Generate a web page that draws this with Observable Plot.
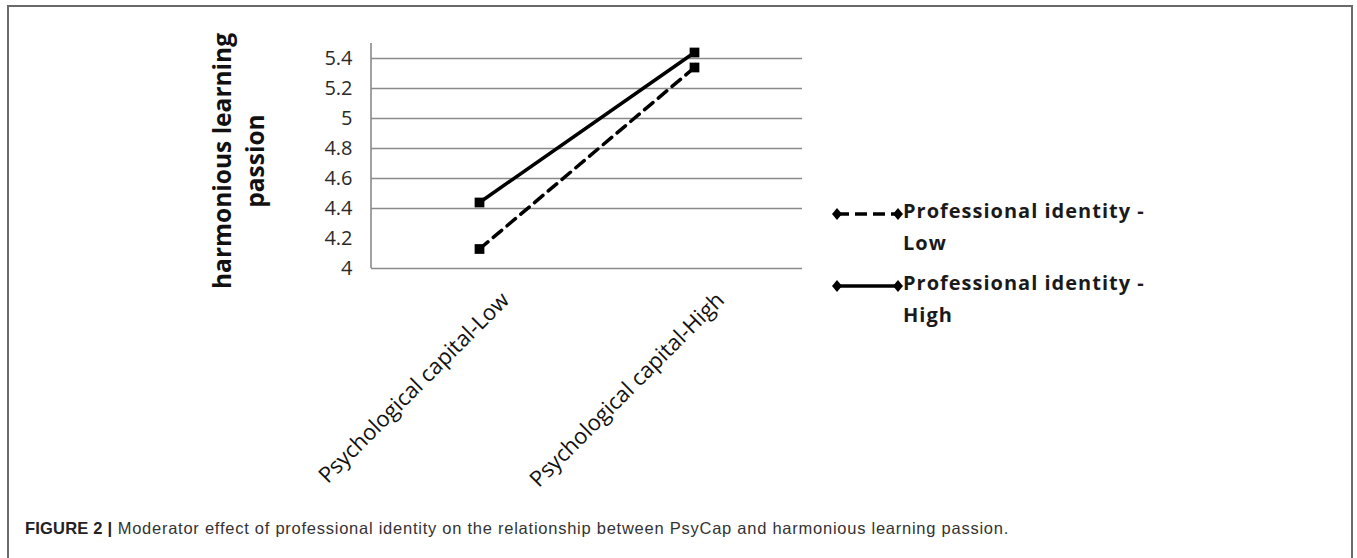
<!DOCTYPE html>
<html>
<head>
<meta charset="utf-8">
<script src="https://cdn.jsdelivr.net/npm/d3@7"></script>
<script src="https://cdn.jsdelivr.net/npm/@observablehq/plot@0.6"></script>
<style>
  html, body { margin: 0; padding: 0; background: #fff; }
  #fig { position: relative; width: 1357px; height: 558px; overflow: hidden; }
  #frame { position: absolute; left: 7px; top: 5px; width: 1346px; height: 600px;
           border: 2px solid #6a6a6a; box-sizing: border-box; }
  #chart { position: absolute; left: 0; top: 0; }
  #legend { position: absolute; left: 830px; top: 196px; font-family: "Open Sans", sans-serif;
            font-weight: 700; font-size: 20px; color: #1a1a1a; }
  .item { position: relative; height: 72px; }
  .item svg { position: absolute; left: 0; top: 8px; }
  .item .lab { position: absolute; left: 73px; top: -1px; line-height: 32px; letter-spacing: 1px; white-space: nowrap; }
  #caption { position: absolute; left: 25px; top: 519px; font-family: "Liberation Sans", Arial, sans-serif;
             font-size: 16.5px; letter-spacing: 0.75px; color: #333; white-space: nowrap; }
  #caption b { color: #222; letter-spacing: 0.2px; }
</style>
</head>
<body>
<div id="fig">
  <div id="frame"></div>
  <div id="chart"></div>
  <div id="legend"></div>
  <div id="caption"><b>FIGURE 2 |</b> Moderator effect of professional identity on the relationship between PsyCap and harmonious learning passion.</div>
</div>
<script>
// ---- data ----
const categories = ["Psychological capital-Low", "Psychological capital-High"];
const seriesNames = ["Professional identity - Low", "Professional identity - High"];
const lowIdentity = [4.13, 5.34];
const highIdentity = [4.44, 5.44];
const yTicks = [4, 4.2, 4.4, 4.6, 4.8, 5, 5.2, 5.4];
const gridTicks = [4.4, 4.6, 4.8, 5, 5.2, 5.4];
const yTitle = "harmonious learning\npassion";

const rows = [];
categories.forEach((c, i) => {
  rows.push({cat: c, value: lowIdentity[i], series: seriesNames[0]});
  rows.push({cat: c, value: highIdentity[i], series: seriesNames[1]});
});
const lowRows = rows.filter(d => d.series === seriesNames[0]);
const highRows = rows.filter(d => d.series === seriesNames[1]);

const plot = Plot.plot({
  width: 830,
  height: 500,
  marginLeft: 371,
  marginRight: 28,
  marginTop: 43,
  marginBottom: 232,
  style: {fontFamily: "Open Sans, sans-serif", background: "transparent"},
  x: {type: "point", domain: categories, padding: 0.5, axis: null},
  y: {domain: [4, 5.5], axis: null},
  marks: [
    Plot.ruleY(gridTicks, {stroke: "#8a8a8a", strokeWidth: 1.6}),
    Plot.ruleY([4], {stroke: "#8a8a8a", strokeWidth: 1.6}),
    Plot.axisY({ticks: yTicks, tickSize: 0, tickPadding: 19, tickFormat: d => String(d),
      fontSize: 20, fill: "#2a2a2a", label: null}),
    Plot.text(categories, {x: d => d, frameAnchor: "bottom", rotate: -45, textAnchor: "end",
      dx: 31, dy: 33, fontSize: 22, fill: "#111"}),
    Plot.text([yTitle], {frameAnchor: "left", rotate: -90, textAnchor: "middle", dx: -135, dy: 5, fontSize: 24.5,
      fontWeight: "bold", fill: "#111", lineHeight: 1.35}),
    Plot.line(lowRows, {x: "cat", y: "value", stroke: "#000", strokeWidth: 3.5, strokeDasharray: "11,7"}),
    Plot.line(highRows, {x: "cat", y: "value", stroke: "#000", strokeWidth: 3.5}),
    Plot.dot(rows, {x: "cat", y: "value", symbol: "square", r: 5.5, fill: "#000", stroke: "none"})
  ]
});

// y axis line drawn from the plot's own scales
const ys = plot.scale("y"), xs = plot.scale("x");
const xLeft = xs.range[0];
d3.select(plot).append("line")
  .attr("x1", xLeft).attr("x2", xLeft)
  .attr("y1", ys.apply(5.5)).attr("y2", ys.apply(4))
  .attr("stroke", "#8a8a8a").attr("stroke-width", 1.6);

document.getElementById("chart").appendChild(plot);

// legend
const legend = document.getElementById("legend");
seriesNames.forEach((name, i) => {
  const item = document.createElement("div");
  item.className = "item";
  const dash = i === 0 ? 'stroke-dasharray="12,6"' : "";
  item.innerHTML = `<svg width="75" height="20">
      <line x1="7" x2="68" y1="10" y2="10" stroke="#000" stroke-width="3.5" ${dash}/>
      <path d="M7,4 L12,10 L7,16 L2,10Z" fill="#000"/>
      <path d="M68,4 L73,10 L68,16 L63,10Z" fill="#000"/>
    </svg>
    <div class="lab">${name.replace(" - ", " -<br>")}</div>`;
  legend.appendChild(item);
});
</script>
</body>
</html>
